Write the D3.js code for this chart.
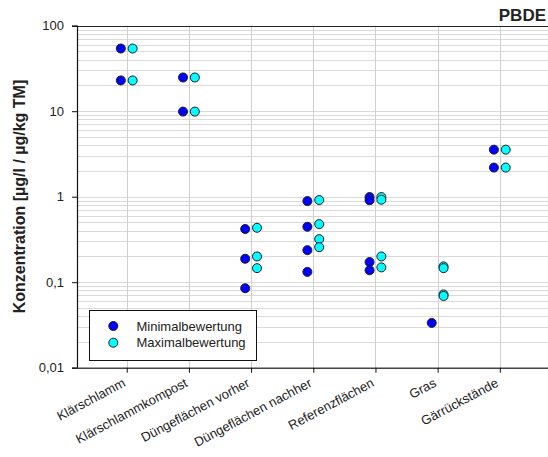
<!DOCTYPE html>
<html><head><meta charset="utf-8">
<script src="https://cdn.jsdelivr.net/npm/d3@7"></script>
<style>
body{margin:0;background:#fff;}
text{font-family:"Liberation Sans",Arial,sans-serif;fill:#222;}
</style></head>
<body><svg id="c" width="548" height="457"></svg>
<script>
const categories = ["Klärschlamm","Klärschlammkompost","Düngeflächen vorher","Düngeflächen nachher","Referenzflächen","Gras","Gärrückstände"];
const minValues = [[54.1,22.9],[24.8,9.9],[0.419,0.188,0.085],[0.889,0.445,0.237,0.132],[0.99,0.91,0.172,0.138],[0.0334],[3.55,2.19]];
const maxValues = [[54.1,22.9],[24.8,9.9],[0.433,0.200,0.146],[0.914,0.478,0.319,0.257],[0.99,0.922,0.200,0.149],[0.153,0.146,0.072,0.069],[3.55,2.19]];
const yTicks = [0.01,0.1,1,10,100];
const yTickLabels = ["0,01","0,1","1","10","100"];
const seriesNames = ["Minimalbewertung","Maximalbewertung"];
const seriesColors = ["#0000ff","#00ffff"];
const title = "PBDE";
const yTitle = "Konzentration [µg/l / µg/kg TM]";

const svg = d3.select("#c");
const pL = 77, pT = 25.7, pB = 367.7, pR = 548;
const x = d3.scaleLinear().domain([0.2, 8]).range([pL, 562]);
const y = d3.scaleLog().domain([0.01, 100]).range([pB, pT]);

// horizontal grid
const minor = [];
for (let e = -2; e < 2; e++) for (let m = 1; m <= 9; m++) minor.push(m * Math.pow(10, e));
minor.push(100);
svg.append("g").selectAll("line").data(minor).join("line")
  .attr("x1", pL).attr("x2", pR)
  .attr("y1", d => Math.round(y(d)) + 0.5).attr("y2", d => Math.round(y(d)) + 0.5)
  .attr("stroke", "#dadada").attr("stroke-width", 1);
// vertical grid
svg.append("g").selectAll("line").data(categories).join("line")
  .attr("x1", (d, i) => Math.round(x(i + 1)) + 0.5).attr("x2", (d, i) => Math.round(x(i + 1)) + 0.5)
  .attr("y1", pT).attr("y2", pB)
  .attr("stroke", "#cfcfcf").attr("stroke-width", 1);

// top border
svg.append("line").attr("x1", pL).attr("x2", pR).attr("y1", Math.round(pT) + 0.5).attr("y2", Math.round(pT) + 0.5)
  .attr("stroke", "#222").attr("stroke-width", 1.2);

// y axis
const yAxis = d3.axisLeft(y).tickValues(yTicks).tickFormat((d, i) => yTickLabels[i]).tickSize(5).tickPadding(8);
const gy = svg.append("g").attr("transform", `translate(${pL},0)`).call(yAxis);
gy.select(".domain").attr("stroke", "#111").attr("stroke-width", 1.2);
gy.selectAll(".tick line").attr("stroke", "#111");
gy.selectAll("text").style("font-size", "13px").attr("fill", "#222").style("font-family", "Liberation Sans, Arial, sans-serif");

// x axis
const xAxis = d3.axisBottom(x).tickValues(categories.map((d, i) => i + 1)).tickFormat((d) => categories[d - 1]).tickSize(5).tickSizeOuter(0);
const gx = svg.append("g").attr("transform", `translate(0,${pB})`).call(xAxis);
gx.select(".domain").attr("stroke", "#444").attr("stroke-width", 1.5).attr("d", `M${pL},0.5H${pR}`);
gx.selectAll(".tick line").attr("stroke", "#111");
gx.selectAll("text").style("font-size", "13px").attr("fill", "#222").style("font-family", "Liberation Sans, Arial, sans-serif")
  .attr("text-anchor", "end").attr("dy", null).attr("y", null)
  .attr("transform", "translate(-1,18) rotate(-28)");

// points
const series = [minValues, maxValues];
const offsets = [-0.095, 0.095];
series.forEach((vals, s) => {
  const pts = [];
  vals.forEach((arr, i) => arr.forEach(v => pts.push({c: i + 1, v})));
  svg.append("g").selectAll("circle").data(pts).join("circle")
    .attr("cx", d => x(d.c + offsets[s])).attr("cy", d => y(d.v)).attr("r", 4.5)
    .attr("fill", seriesColors[s]).attr("stroke", "#1a1a2a").attr("stroke-width", 1);
});

// legend
const lg = svg.append("g");
lg.append("rect").attr("x", 89.5).attr("y", 310.5).attr("width", 167).attr("height", 50)
  .attr("fill", "#fff").attr("stroke", "#111").attr("stroke-width", 1);
seriesNames.forEach((n, i) => {
  const cy = 326 + i * 16.7;
  lg.append("circle").attr("cx", 113.3).attr("cy", cy).attr("r", 4.5)
    .attr("fill", seriesColors[i]).attr("stroke", "#1a1a2a");
  lg.append("text").attr("x", 136.5).attr("y", cy + 4.7).text(n).style("font-size", "13px");
});

// titles
svg.append("text").attr("x", 546).attr("y", 21).attr("text-anchor", "end")
  .style("font-size", "17px").style("font-weight", "bold").attr("fill", "#111").text(title);
svg.append("text").attr("transform", "translate(25,196.5) rotate(-90)").attr("text-anchor", "middle")
  .style("font-size", "16px").style("font-weight", "bold").attr("fill", "#111").text(yTitle);
</script></body></html>
